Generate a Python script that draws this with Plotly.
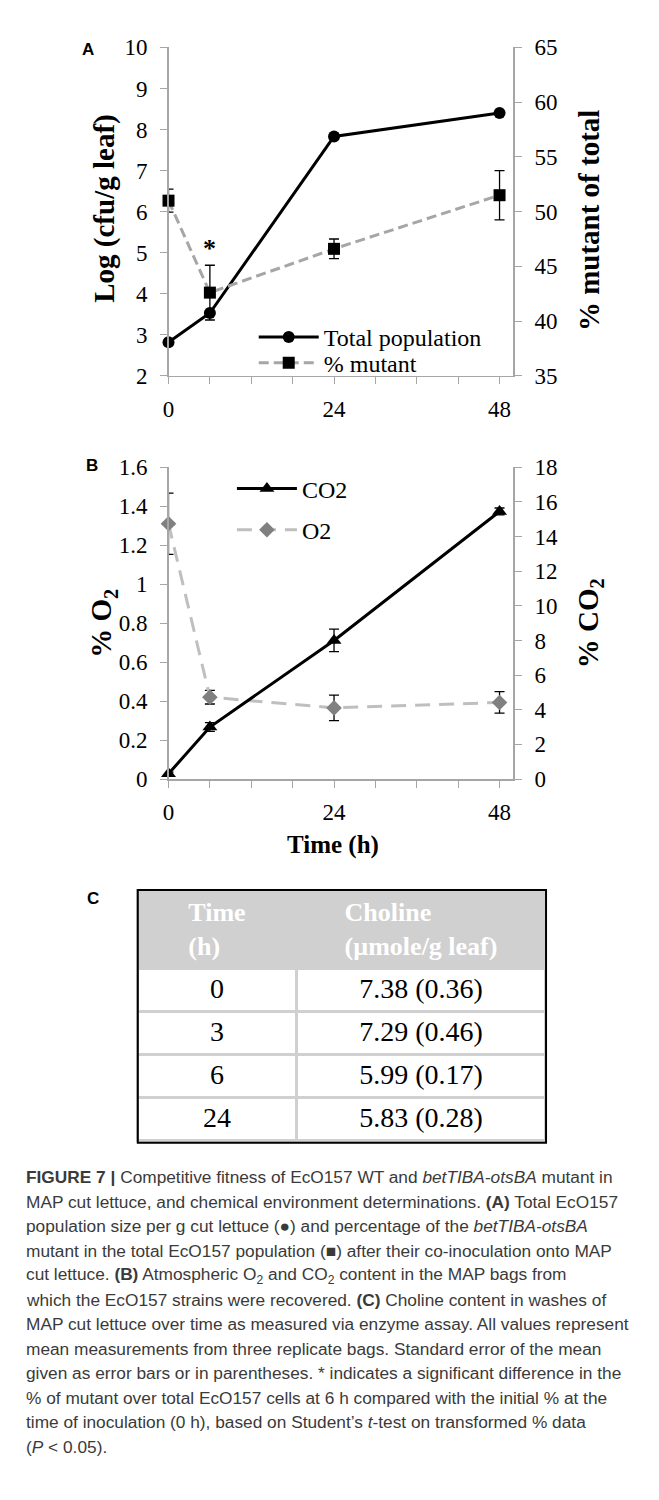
import plotly.graph_objects as go

W, H = 659, 1500

# ---------------- data ----------------
time_h = [0, 6, 24, 48]
total_pop = [2.82, 3.53, 7.83, 8.40]
pct_mutant = [51.0, 42.6, 46.6, 51.5]
pct_mutant_err = [1.05, 2.5, 0.9, 2.25]

co2 = [0.3, 3.0, 8.0, 15.45]
co2_err = [0.1, 0.25, 0.65, 0.2]
o2 = [1.31, 0.42, 0.365, 0.393]
o2_err = [0.157, 0.035, 0.065, 0.055]

x_major_ticks = [0, 24, 48]
x_minor_ticks = [6, 12, 18, 30, 36, 42]

table_time = ["0", "3", "6", "24"]
table_choline = ["7.38 (0.36)", "7.29 (0.46)", "5.99 (0.17)", "5.83 (0.28)"]

caption_lines = [
    "<b>FIGURE 7 |</b> Competitive fitness of EcO157 WT and <i>betTIBA-otsBA</i> mutant in",
    "MAP cut lettuce, and chemical environment determinations. <b>(A)</b> Total EcO157",
    "population size per g cut lettuce (●) and percentage of the <i>betTIBA-otsBA</i>",
    "mutant in the total EcO157 population (■) after their co-inoculation onto MAP",
    "cut lettuce. <b>(B)</b> Atmospheric O<sub>2</sub> and CO<sub>2</sub> content in the MAP bags from",
    "which the EcO157 strains were recovered. <b>(C)</b> Choline content in washes of",
    "MAP cut lettuce over time as measured via enzyme assay. All values represent",
    "mean measurements from three replicate bags. Standard error of the mean",
    "given as error bars or in parentheses. * indicates a significant difference in the",
    "% of mutant over total EcO157 cells at 6 h compared with the initial % at the",
    "time of inoculation (0 h), based on Student’s <i>t</i>-test on transformed % data",
    "(<i>P</i> &lt; 0.05).",
]

# ---------------- helpers (page pixel -> paper) ----------------
def px(x):
    return x / W

def py(y):
    return 1 - y / H

SERIF = "Liberation Serif"
SANS = "Liberation Sans"
AXC = "#A6A6A6"

fig = go.Figure()

# Panel A
fig.add_trace(go.Scatter(
    x=time_h, y=total_pop, name="Total population", mode="lines+markers",
    line=dict(color="black", width=3), marker=dict(symbol="circle", size=12, color="black"),
    cliponaxis=False, xaxis="x", yaxis="y", legend="legend"))
fig.add_trace(go.Scatter(
    x=time_h, y=pct_mutant, name="% mutant", mode="lines+markers",
    line=dict(color="#A6A6A6", width=3, dash="10px,5px"),
    marker=dict(symbol="square", size=12, color="black"),
    error_y=dict(type="data", array=pct_mutant_err, color="black", thickness=1.3, width=5),
    cliponaxis=False, xaxis="x", yaxis="y2", legend="legend3"))

# Panel B
fig.add_trace(go.Scatter(
    x=time_h, y=o2, name="O2", mode="lines+markers",
    line=dict(color="#BFBFBF", width=3, dash="15px,9px"),
    marker=dict(symbol="diamond", size=12, color="#808080"),
    error_y=dict(type="data", array=o2_err, color="black", thickness=1.3, width=5),
    cliponaxis=False, xaxis="x2", yaxis="y3", legend="legend4"))
fig.add_trace(go.Scatter(
    x=time_h, y=co2, name="CO2", mode="lines+markers",
    line=dict(color="black", width=3),
    marker=dict(symbol="triangle-up", size=13, color="black"),
    error_y=dict(type="data", array=co2_err, color="black", thickness=1.3, width=5),
    cliponaxis=False, xaxis="x2", yaxis="y4", legend="legend2"))

# Table C
fig.add_trace(go.Table(
    domain=dict(x=[px(133), px(545)], y=[py(1150), py(893)]),
    columnwidth=[160, 252],
    header=dict(values=["<b>Time</b><br><b>(h)</b>", "<b>Choline</b><br><b>(µmole/g leaf)</b>"],
                fill_color="#D0D0D0", line=dict(color="#D0D0D0", width=3),
                font=dict(family=SERIF, size=26, color="white"), align="center", height=42),
    cells=dict(values=[table_time, table_choline], fill_color="white",
               line=dict(color="#D0D0D0", width=3),
               font=dict(family=SERIF, size=28, color="black"), align="center", height=43)))

tickfont = dict(family=SERIF, size=23, color="black")
xdom = [px(164), px(512)]
common_x = dict(range=[0, 50], tickmode="array", tickvals=x_major_ticks,
                ticktext=[str(v) for v in x_major_ticks], ticks="outside",
                ticklen=7, tickcolor=AXC, showline=True, linecolor=AXC, linewidth=1.5,
                minor=dict(tickmode="array", tickvals=x_minor_ticks, ticks="outside",
                           ticklen=7, tickcolor=AXC, showgrid=False),
                showgrid=False, zeroline=False, tickfont=tickfont, ticklabelstandoff=5)
common_y = dict(ticks="outside", ticklen=7, tickcolor=AXC, showline=True, linecolor=AXC,
                linewidth=1.5, showgrid=False, zeroline=False, tickfont=tickfont,
                ticklabelstandoff=8)

leg_common = dict(font=dict(family=SERIF, size=24, color="black"), bgcolor="rgba(0,0,0,0)",
                  itemwidth=60, xanchor="left", yanchor="middle", borderwidth=0)

fig.update_layout(
    width=W, height=H, autosize=False,
    margin=dict(l=0, r=0, t=0, b=0),
    paper_bgcolor="white", plot_bgcolor="white",
    xaxis=dict(domain=xdom, anchor="y", **common_x),
    yaxis=dict(domain=[py(370), py(36)], range=[2, 10], dtick=1, anchor="x", **common_y),
    yaxis2=dict(range=[35, 65], dtick=5, overlaying="y", side="right", anchor="x", **common_y),
    xaxis2=dict(domain=xdom, anchor="y3", **common_x),
    yaxis3=dict(domain=[py(780), py(463)], range=[0, 1.6], dtick=0.2, anchor="x2", **common_y),
    yaxis4=dict(range=[0, 18], dtick=2, overlaying="y3", side="right", anchor="x2", **common_y),
    legend=dict(x=px(250), y=py(331), **leg_common),
    legend3=dict(x=px(250), y=py(357), **leg_common),
    legend2=dict(x=px(228), y=py(485), **leg_common),
    legend4=dict(x=px(228), y=py(527), **leg_common),
    showlegend=True,
)

ann = []
# panel labels
for lab, xx, yy in [("A", 83, 38), ("B", 87, 461), ("C", 88, 902)]:
    ann.append(dict(text="<b>%s</b>" % lab, x=px(xx), y=py(yy), xref="paper", yref="paper",
                    showarrow=False, font=dict(family=SANS, size=17, color="black"),
                    xanchor="center", yanchor="middle"))
# axis titles
tfont = dict(family=SERIF, size=29, color="black")
for txt, xx, yy in [("<b>Log (cfu/g leaf)</b>", 100, 200),
                    ("<b>% mutant of total</b>", 589, 212),
                    ("<b>% O<sub>2</sub></b>", 98, 622),
                    ("<b>% CO<sub>2</sub></b>", 589, 622)]:
    ann.append(dict(text=txt, x=px(xx), y=py(yy), xref="paper", yref="paper", textangle=-90,
                    showarrow=False, font=tfont, xanchor="center", yanchor="middle"))
ann.append(dict(text="<b>Time (h)</b>", x=px(330), y=py(847), xref="paper", yref="paper",
                showarrow=False, font=dict(family=SERIF, size=25, color="black"),
                xanchor="center", yanchor="middle"))
# significance asterisk
ann.append(dict(text="<b>*</b>", x=6, y=pct_mutant[1] + pct_mutant_err[1], xref="x", yref="y2",
                showarrow=False, font=dict(family=SERIF, size=26, color="black"),
                xanchor="center", yanchor="bottom", yshift=0))
# caption
for i, line in enumerate(caption_lines):
    ann.append(dict(text=line, x=px(18), y=py(1185 + i * 24.9), xref="paper", yref="paper",
                    showarrow=False, font=dict(family=SANS, size=17.3, color="#3a3a3a"),
                    xanchor="left", yanchor="middle", align="left"))
fig.update_layout(annotations=ann)

# outer table border
fig.add_shape(type="rect", xref="paper", yref="paper", x0=px(133), x1=px(545),
              y0=py(1150), y1=py(893), line=dict(color="black", width=2), fillcolor="rgba(0,0,0,0)")

fig.write_html("out.html", config={"displayModeBar": False, "staticPlot": True},
               post_script="document.body.style.margin='0px';document.body.style.overflow='hidden';")
